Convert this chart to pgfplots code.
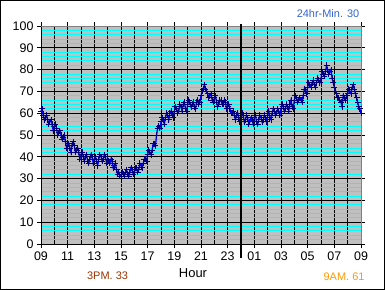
\documentclass[border=0pt]{standalone}
\usepackage{fontspec}
\setmainfont{Liberation Sans}
\usepackage{pgfplots}
\pgfplotsset{compat=1.18}
\definecolor{silverbg}{RGB}{192,192,192}
\definecolor{gridcyan}{RGB}{0,255,255}
\definecolor{navymark}{RGB}{0,0,128}
\definecolor{lineblue}{RGB}{0,0,255}
\definecolor{minblue}{RGB}{51,102,204}
\definecolor{brownt}{RGB}{153,51,0}
\definecolor{oranget}{RGB}{255,153,0}
\begin{document}
\begin{tikzpicture}
\begin{axis}[
  width=320bp, height=218bp, scale only axis,
  xmin=0, xmax=24, ymin=0, ymax=100,
  clip=false,
  axis background/.style={fill=silverbg},
  xtick={0,2,...,24},
  xticklabels={09,11,13,15,17,19,21,23,01,03,05,07,09},
  minor x tick num=1,
  ytick={0,10,...,100},
  minor y tick num=4,
  xmajorgrids, ymajorgrids, xminorgrids, yminorgrids,
  major grid style={black, line width=0.8bp},
  minor x grid style={black, line width=0.8bp},
  minor y grid style={gridcyan, line width=0.9bp},
  tick align=outside,
  major tick length=4bp, minor tick length=0pt,
  tick style={black, line width=0.8bp},
  axis line style={black, line width=0.8bp},
  /pgf/number format/assume math mode=true,
  ticklabel style={font=\fontsize{12.5}{14}\selectfont},
  xlabel={Hour},
  xlabel style={font=\fontsize{13}{15}\selectfont, at={(rel axis cs:0.475,-0.133)}, anchor=center},
]
\addplot[lineblue, line width=1.3bp, mark=+, mark size=3bp, mark options={navymark, line width=0.9bp}] table {
x y
0.000 61
0.083 62
0.167 59
0.250 57
0.333 58
0.417 59
0.500 57
0.583 55
0.667 56
0.750 57
0.833 55
0.917 52
1.000 54
1.083 55
1.167 53
1.250 50
1.333 51
1.417 52
1.500 50
1.583 48
1.667 49
1.750 50
1.833 47
1.917 44
2.000 45
2.083 46
2.167 44
2.250 42
2.333 46
2.417 47
2.500 45
2.583 42
2.667 43
2.750 44
2.833 42
2.917 39
3.000 41
3.083 42
3.167 40
3.250 38
3.333 40
3.417 41
3.500 38
3.583 37
3.667 39
3.750 41
3.833 40
3.917 37
4.000 39
4.083 40
4.167 38
4.250 36
4.333 39
4.417 41
4.500 40
4.583 38
4.667 39
4.750 41
4.833 40
4.917 37
5.000 39
5.083 38
5.167 37
5.250 39
5.333 38
5.417 35
5.500 36
5.583 37
5.667 34
5.750 32
5.833 33
5.917 31
6.000 31
6.083 33
6.167 32
6.250 31
6.333 33
6.417 34
6.500 32
6.583 31
6.667 33
6.750 35
6.833 34
6.917 32
7.000 33
7.083 35
7.167 35
7.250 33
7.333 34
7.417 37
7.500 36
7.583 35
7.667 37
7.750 39
7.833 39
7.917 38
8.000 41
8.083 43
8.167 42
8.250 41
8.333 43
8.417 46
8.500 46
8.583 45
8.667 50
8.750 53
8.833 54
8.917 53
9.000 56
9.083 58
9.167 57
9.250 55
9.333 58
9.417 60
9.500 59
9.583 57
9.667 60
9.750 61
9.833 59
9.917 58
10.000 61
10.083 63
10.167 62
10.250 60
10.333 61
10.417 64
10.500 63
10.583 61
10.667 64
10.750 65
10.833 62
10.917 61
11.000 64
11.083 66
11.167 65
11.250 63
11.333 64
11.417 65
11.500 63
11.583 62
11.667 65
11.750 66
11.833 64
11.917 65
12.000 68
12.083 70
12.167 71
12.250 73
12.333 71
12.417 70
12.500 69
12.583 67
12.667 68
12.750 69
12.833 66
12.917 65
13.000 67
13.083 68
13.167 65
13.250 63
13.333 64
13.417 66
13.500 66
13.583 64
13.667 64
13.750 66
13.833 65
13.917 62
14.000 63
14.083 64
14.167 62
14.250 60
14.333 60
14.417 61
14.500 59
14.583 57
14.667 59
14.750 60
14.833 58
14.917 56
15.000 58
15.083 60
15.167 59
15.250 56
15.333 57
15.417 59
15.500 58
15.583 55
15.667 56
15.750 58
15.833 57
15.917 55
16.000 58
16.083 59
16.167 56
16.250 55
16.333 57
16.417 59
16.500 58
16.583 56
16.667 57
16.750 59
16.833 58
16.917 56
17.000 59
17.083 61
17.167 58
17.250 57
17.333 60
17.417 62
17.500 61
17.583 59
17.667 60
17.750 62
17.833 61
17.917 59
18.000 62
18.083 64
18.167 63
18.250 61
18.333 62
18.417 64
18.500 63
18.583 61
18.667 64
18.750 66
18.833 63
18.917 62
19.000 66
19.083 68
19.167 67
19.250 65
19.333 66
19.417 67
19.500 66
19.583 65
19.667 68
19.750 71
19.833 70
19.917 69
20.000 72
20.083 74
20.167 73
20.250 72
20.333 74
20.417 75
20.500 73
20.583 72
20.667 74
20.750 76
20.833 75
20.917 74
21.000 76
21.083 79
21.167 78
21.250 77
21.333 79
21.417 82
21.500 80
21.583 78
21.667 79
21.750 80
21.833 76
21.917 74
22.000 72
22.083 70
22.167 69
22.250 67
22.333 67
22.417 66
22.500 65
22.583 63
22.667 68
22.750 67
22.833 66
22.917 68
23.000 69
23.083 71
23.167 70
23.250 69
23.333 72
23.417 73
23.500 71
23.583 69
23.667 67
23.750 65
23.833 63
23.917 62
24.000 60
};
\draw[gray, line width=0.8bp] (rel axis cs:0,1) -- (rel axis cs:1,1) -- (rel axis cs:1,0);
\draw[black, line width=2bp] (axis cs:15,-6.4) -- (axis cs:15,100.9);
\node[minblue, font=\fontsize{11}{13}\selectfont] at (rel axis cs:0.897,1.055) {24hr-Min. 30};
\node[brownt, font=\fontsize{11}{13}\selectfont] at (rel axis cs:0.208,-0.147) {3PM. 33};
\node[oranget, font=\fontsize{11}{13}\selectfont] at (rel axis cs:0.947,-0.151) {9AM. 61};
\draw[black, line width=1.5bp] (rel axis cs:-0.12578,-0.20757) rectangle (rel axis cs:1.07266,1.11583);
\end{axis}
\end{tikzpicture}
\end{document}
